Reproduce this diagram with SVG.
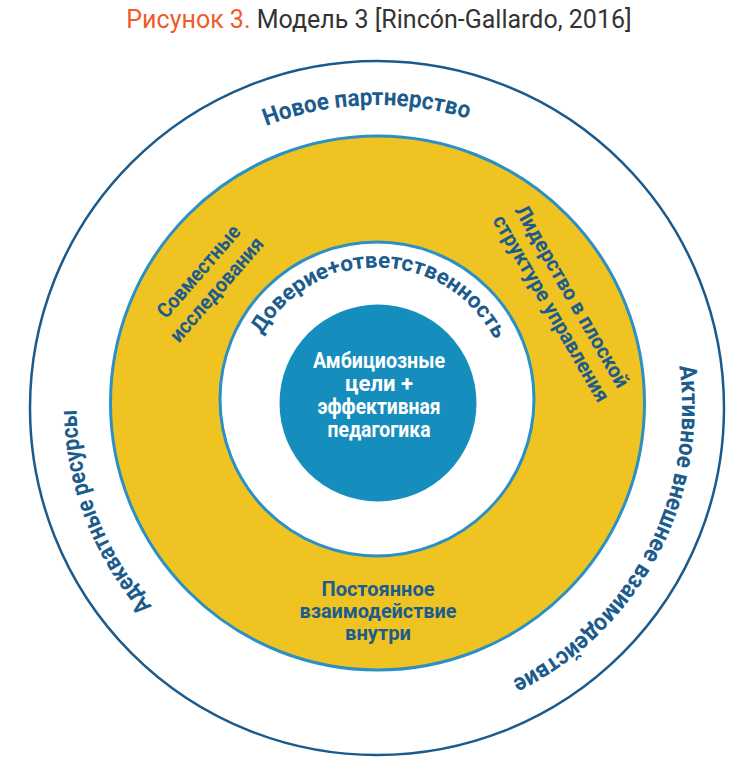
<svg xmlns="http://www.w3.org/2000/svg" width="755" height="768" viewBox="0 0 755 768">
<style>
.lbl{font-family:"Roboto","Liberation Sans",sans-serif;font-weight:bold;fill:#1c5c8d;}
.core{font-family:"Roboto","Liberation Sans",sans-serif;font-weight:bold;fill:#ffffff;font-size:21.5px;text-anchor:middle;}
.title{font-family:"Roboto","Liberation Sans",sans-serif;font-size:25px;}
</style>
<defs>
<path id="pTop" d="M72.2,417.6 A305,305 0 0 1 681.8,396.4"/>
<path id="pRight" d="M520.2,137.7 A305,305 0 0 1 233.8,676.3"/>
<path id="pLeft" d="M486.3,691.7 A305,305 0 0 1 267.7,122.3"/>
<path id="pInner" d="M245.03,396.24 A132,132 0 0 1 508.97,401.76"/>
</defs>
<rect width="755" height="768" fill="#ffffff"/>
<g id="title">
<text class="title" x="379" y="28" text-anchor="middle"><tspan fill="#f15a29">Рисунок 3.</tspan><tspan fill="#333333"> Модель 3 [Rincón-Gallardo, 2016]</tspan></text>
</g>
<g id="ring-outer">
<circle cx="377" cy="408" r="347" fill="#ffffff" stroke="#1b5a8a" stroke-width="2.5"/>
</g>
<g id="ring-yellow">
<circle cx="377.5" cy="403" r="267" fill="#efc322" stroke="#2a90c5" stroke-width="3"/>
</g>
<g id="ring-inner">
<circle cx="377" cy="399" r="157" fill="#ffffff" stroke="#2a90c5" stroke-width="3"/>
</g>
<g id="core">
<circle cx="378" cy="403" r="98.5" fill="#168ebd"/>
<text class="core" x="379" y="368" textLength="132" lengthAdjust="spacingAndGlyphs">Амбициозные</text>
<text class="core" x="379" y="391" textLength="68" lengthAdjust="spacingAndGlyphs">цели +</text>
<text class="core" x="379" y="414" textLength="123" lengthAdjust="spacingAndGlyphs">эффективная</text>
<text class="core" x="379" y="437" textLength="103" lengthAdjust="spacingAndGlyphs">педагогика</text>
</g>
<g id="label-partnership">
<text class="lbl" font-size="24"><textPath href="#pTop" startOffset="50%" text-anchor="middle" textLength="206" lengthAdjust="spacingAndGlyphs">Новое партнерство</textPath></text>
</g>
<g id="label-external">
<text class="lbl" font-size="24"><textPath href="#pRight" startOffset="50%" text-anchor="middle" textLength="380" lengthAdjust="spacingAndGlyphs">Активное внешнее взаимодействие</textPath></text>
</g>
<g id="label-resources">
<text class="lbl" font-size="24"><textPath href="#pLeft" startOffset="50%" text-anchor="middle" textLength="215" lengthAdjust="spacingAndGlyphs">Адекватные ресурсы</textPath></text>
</g>
<g id="label-trust">
<text class="lbl" font-size="22"><textPath href="#pInner" startOffset="50%" text-anchor="middle" textLength="285" lengthAdjust="spacingAndGlyphs">Доверие+ответственность</textPath></text>
</g>
<g id="label-research">
<text class="lbl" font-size="21" text-anchor="middle" transform="translate(204,276) rotate(-49)" textLength="115" lengthAdjust="spacingAndGlyphs">Совместные</text>
<text class="lbl" font-size="21" text-anchor="middle" transform="translate(222,294) rotate(-49)" textLength="131" lengthAdjust="spacingAndGlyphs">исследования</text>
</g>
<g id="label-leadership">
<text class="lbl" font-size="21" text-anchor="middle" transform="translate(566,300) rotate(60)" textLength="207" lengthAdjust="spacingAndGlyphs">Лидерство в плоской</text>
<text class="lbl" font-size="21" text-anchor="middle" transform="translate(545,312) rotate(60)" textLength="212" lengthAdjust="spacingAndGlyphs">структуре управления</text>
</g>
<g id="label-internal">
<text class="lbl" font-size="21" text-anchor="middle" x="378" y="596" textLength="113" lengthAdjust="spacingAndGlyphs">Постоянное</text>
<text class="lbl" font-size="21" text-anchor="middle" x="378" y="618" textLength="157" lengthAdjust="spacingAndGlyphs">взаимодействие</text>
<text class="lbl" font-size="21" text-anchor="middle" x="378" y="640" textLength="66" lengthAdjust="spacingAndGlyphs">внутри</text>
</g>
</svg>
